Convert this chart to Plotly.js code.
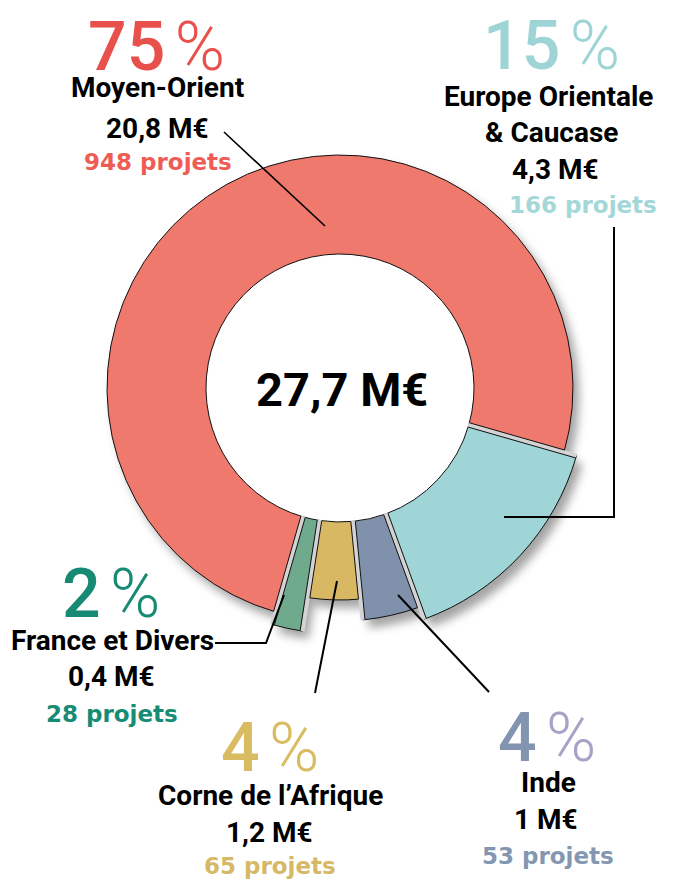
<!DOCTYPE html>
<html><head><meta charset="utf-8">
<script src="https://cdn.plot.ly/plotly-3.0.1.min.js"></script>
<style>html,body{margin:0;padding:0;background:#fff;}#chart{width:673px;height:884px;}</style>
</head><body><div id="chart"></div>
<script>
// ---------------- DATA ----------------
const regions = ['Moyen-Orient', 'Europe Orientale & Caucase', 'Inde', 'Corne de l’Afrique', 'France et Divers'];
const shares = [75, 15, 4, 4, 2];                    // % of total
const amountsMEUR = ['20,8', '4,3', '1', '1,2', '0,4'];
const projects = [948, 166, 53, 65, 28];
const totalLabel = '27,7 M€';

// ---------------- STYLE ----------------
const W = 673, H = 884;
const CX = 340, CY = 388, RIN = 134;
const sliceRadius = [233, 246, 233, 212, 246];
const sliceColors = ['#EF796C', '#9FD5D6', '#8091AB', '#D9B863', '#6EAA8B'];
const pctNumColor = ['#E8504C', '#9ED4D5', '#8294AF', '#D9BB62', '#168A72'];
const pctSignColor = ['#E8504C', '#9ED4D5', '#A9A2C6', '#D9BB62', '#168A72'];
const projColor = ['#EE5D55', '#A3D7D8', '#8497B2', '#D6B966', '#178C74'];
const ROT = 196;              // start angle of first slice, clockwise from 12 o'clock
const SANS = 'Roboto, Liberation Sans, sans-serif';
const ROUND = 'DejaVu Sans, Lato, sans-serif';

// label positions (px)
const pctXY = [[156, 47], [551, 46], [547, 738], [270, 748], [111, 594]];
const nameXY = [[[157, 88]], [[548, 96], [551, 132]], [[548, 782]], [[270, 795]], [[112, 640]]];
const amtXY = [[157, 128], [555, 170], [546, 819], [269, 832], [111, 676]];
const projXY = [[158, 162], [583, 205], [548, 856], [270, 866], [112, 714]];
const leaders = [
  [[224, 132], [325, 226]],
  [[614, 227], [614, 517], [504, 517]],
  [[398, 595], [489, 692]],
  [[337, 581], [315, 693]],
  [[215, 643], [266, 643], [284, 595]]
];

const fx = x => x / W, fy = y => 1 - y / H;
function domainFor(cx, cy, R) {
  return { x: [fx(cx - R), fx(cx + R)], y: [fy(cy + R), fy(cy - R)] };
}

const data = [];
// shadow layers
regions.forEach((_, i) => {
  const R = sliceRadius[i];
  data.push({
    type: 'pie', values: shares, labels: regions, sort: false, direction: 'clockwise', rotation: ROT,
    hole: (RIN + 22) / R, domain: domainFor(CX + 6, CY + 8, R),
    marker: { colors: shares.map((_, j) => j === i ? 'rgba(0,0,0,0.36)' : 'rgba(0,0,0,0)'), line: { width: 0 } },
    textinfo: 'none', hoverinfo: 'skip', showlegend: false
  });
});
// slices
regions.forEach((_, i) => {
  const R = sliceRadius[i];
  data.push({
    type: 'pie', values: shares, labels: regions, sort: false, direction: 'clockwise', rotation: ROT,
    hole: RIN / R, domain: domainFor(CX, CY, R),
    marker: {
      colors: shares.map((_, j) => j === i ? sliceColors[j] : 'rgba(0,0,0,0)'),
      line: { width: 1, color: shares.map((_, j) => j === i ? '#111' : 'rgba(0,0,0,0)') }
    },
    textinfo: 'none', hoverinfo: 'label+percent', showlegend: false
  });
});

// gaps between slices, derived from the same cumulative shares
const shapes = [];
const total = shares.reduce((a, b) => a + b, 0);
const G = 4.5;
function P(r, th, off) {
  const t = th * Math.PI / 180;
  return [CX + r * Math.sin(t) + off * Math.cos(t), CY - r * Math.cos(t) + off * Math.sin(t)];
}
const pstr = pts => pts.map((p, k) => (k ? 'L' : 'M') + fx(p[0]).toFixed(5) + ',' + fy(p[1]).toFixed(5)).join(' ');
let cum = 0;
for (let k = 0; k < shares.length; k++) {
  const th = ROT + 360 * cum / total;
  const before = (k - 1 + shares.length) % shares.length, after = k;
  const Rb = sliceRadius[before], Ra = sliceRadius[after], Rm = Math.max(Rb, Ra);
  shapes.push({ type: 'path', xref: 'paper', yref: 'paper', fillcolor: '#d3d3d3', line: { width: 0 },
    path: pstr([P(RIN - 0.8, th, -G / 2), P(Rm, th, -G / 2), P(Rm, th, G / 2), P(RIN - 0.8, th, G / 2)]) + ' Z' });
  shapes.push({ type: 'path', xref: 'paper', yref: 'paper', line: { width: 1, color: '#111' },
    path: pstr([P(RIN, th, -G / 2), P(Rb, th, -G / 2)]) });
  shapes.push({ type: 'path', xref: 'paper', yref: 'paper', line: { width: 1, color: '#111' },
    path: pstr([P(RIN, th, G / 2), P(Ra, th, G / 2)]) });
  cum += shares[k];
}
leaders.forEach((pts, i) => shapes.push({ type: 'path', xref: 'paper', yref: 'paper', line: { width: i === 0 ? 1.6 : 2, color: '#000' }, path: pstr(pts) }));

// annotations
const annotations = [];
function ann(x, y, text, font) {
  annotations.push({ x: fx(x), y: fy(y), xref: 'paper', yref: 'paper', xanchor: 'center', yanchor: 'middle', showarrow: false, text, font });
}
regions.forEach((name, i) => {
  ann(pctXY[i][0], pctXY[i][1],
    `<span style="color:${pctNumColor[i]}">${shares[i]}</span><span style="font-size:38px"> </span><span style="color:${pctSignColor[i]};font-weight:300">%</span>`,
    { family: SANS, size: 68, weight: 500, color: pctNumColor[i] });
  const lines = name.includes(' & ') ? [name.split(' & ')[0], '& ' + name.split(' & ')[1]] : [name];
  lines.forEach((ln, k) => ann(nameXY[i][k][0], nameXY[i][k][1], ln, { family: SANS, size: 28, weight: 700, color: '#000' }));
  ann(amtXY[i][0], amtXY[i][1], `${amountsMEUR[i]} M€`, { family: SANS, size: 28, weight: 700, color: '#000' });
  ann(projXY[i][0], projXY[i][1], `${projects[i]} projets`, { family: ROUND, size: 23, weight: 700, color: projColor[i] });
});
ann(342, 389, totalLabel, { family: SANS, size: 47, weight: 700, color: '#000' });

const layout = {
  width: W, height: H, margin: { l: 0, r: 0, t: 0, b: 0 },
  paper_bgcolor: '#fff', plot_bgcolor: '#fff', showlegend: false,
  shapes, annotations
};

Plotly.newPlot('chart', data, layout, { staticPlot: true, displayModeBar: false }).then(gd => {
  const svg = gd.querySelector('.main-svg');
  const ns = 'http://www.w3.org/2000/svg';
  let defs = svg.querySelector('defs');
  if (!defs) { defs = document.createElementNS(ns, 'defs'); svg.insertBefore(defs, svg.firstChild); }
  const f = document.createElementNS(ns, 'filter');
  f.setAttribute('id', 'slice-shadow');
  f.setAttribute('x', '-20%'); f.setAttribute('y', '-20%'); f.setAttribute('width', '140%'); f.setAttribute('height', '140%');
  const b = document.createElementNS(ns, 'feGaussianBlur');
  b.setAttribute('stdDeviation', '5');
  f.appendChild(b); defs.appendChild(f);
  const groups = gd.querySelectorAll('.pielayer .trace');
  for (let i = 0; i < regions.length && i < groups.length; i++) groups[i].setAttribute('filter', 'url(#slice-shadow)');
});
</script></body></html>
